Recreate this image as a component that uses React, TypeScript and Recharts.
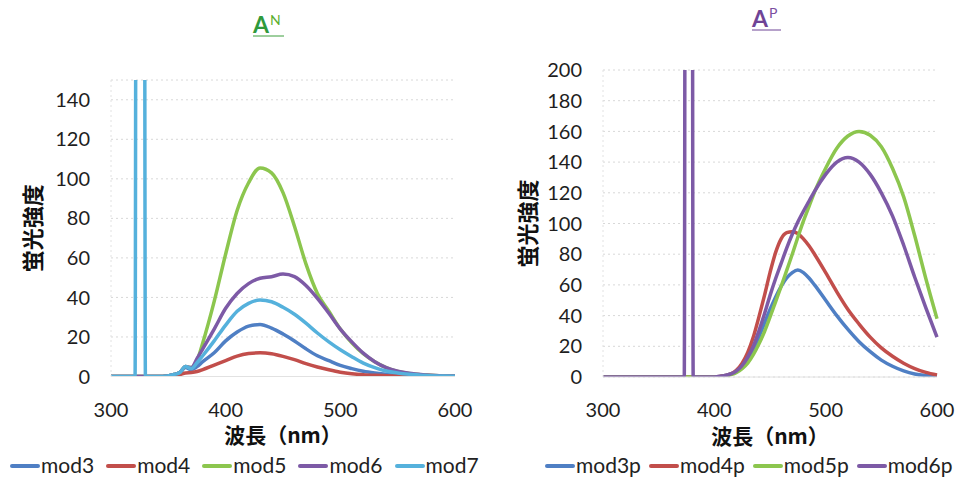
import { LineChart, Line, XAxis, YAxis, CartesianGrid, Label } from 'recharts';

// ---- A^N (left) ----
const wavelengthsN = [300, 321, 322, 329, 330, 345, 355, 360, 365, 370, 375, 380, 390, 400, 410, 420, 430, 440, 450, 460, 470, 480, 490, 500, 510, 520, 530, 540, 550, 560, 575, 590, 600];
const mod3 = [0, 0, 0, 0, 0, 0, 1, 2, 4.5, 3.5, 5, 7.5, 12, 18, 22.5, 25.5, 26.3, 24.5, 21.5, 18, 14, 10.5, 8, 5.6, 4, 2.7, 1.8, 1.1, 0.7, 0.4, 0.2, 0.1, 0];
const mod4 = [0, 0, 0, 0, 0, 0, 0.5, 1, 1.8, 2, 2.5, 3.5, 5.8, 8, 10.3, 11.6, 12, 11.5, 10.2, 8.5, 6.5, 4.8, 3.4, 2.2, 1.4, 0.9, 0.6, 0.4, 0.2, 0.1, 0, 0, 0];
const mod5 = [0, 0, 0, 0, 0, 0, 1, 2, 5, 4.5, 8, 17, 38, 62, 84, 98, 105.5, 103, 93, 76, 57, 42, 33, 24, 17, 11.5, 7.5, 4.5, 2.5, 1.5, 0.7, 0.3, 0.2];
const mod6 = [0, 0, 0, 0, 0, 0, 1, 2, 5, 4.5, 9, 14, 24, 34.5, 42, 47, 49.7, 50.5, 51.8, 50.5, 46, 39.5, 32, 24, 17.5, 11.8, 7.5, 4.5, 2.7, 1.6, 0.8, 0.3, 0.2];
const mod7 = [0, 0, 300, 300, 0, 0, 1, 2, 5, 4, 7, 10.5, 18, 26, 33, 37, 38.7, 37.8, 35, 31.5, 27, 22, 17.5, 13.5, 10, 6.8, 4.5, 2.8, 1.8, 1.1, 0.5, 0.2, 0.1];

// ---- A^P (right) ----
const wavelengthsP = [300, 373, 374, 380, 381, 400, 410, 415, 420, 425, 430, 435, 440, 445, 450, 455, 460, 465, 470, 475, 480, 485, 490, 500, 510, 520, 530, 540, 550, 560, 570, 580, 590, 600];
const mod3p = [0, 0, 0, 0, 0, 0, 1, 2, 4, 7, 12, 18, 26, 35, 44, 52, 59, 64.5, 68, 69.7, 68, 64.5, 60, 50, 40, 31, 23, 16.5, 11, 7, 4, 2, 1, 0.5];
const mod4p = [0, 0, 0, 0, 0, 0, 1, 2, 4.5, 9, 16, 26, 39, 53, 68, 81, 90, 94, 94.7, 93.5, 90, 85.5, 80, 68, 55.5, 44, 34.5, 26, 19, 13.5, 9, 5.5, 3, 1.3];
const mod5p = [0, 0, 0, 0, 0, 0, 0.5, 1.5, 3, 5.5, 9, 14.5, 21.5, 29.5, 39, 49, 59, 69.5, 80, 91, 101.5, 111, 120.5, 136, 149, 157, 160, 157.5, 150, 136, 117.5, 92, 64, 38];
const mod6p = [0, 0, 400, 400, 0, 0, 1, 2, 4, 7.5, 13, 20, 30, 41, 53, 64, 74, 84, 93, 101, 108, 114.5, 121, 132, 140, 143, 140, 132, 120, 105, 86, 65, 45, 26];

const xTicks = [300, 400, 500, 600];
const yTicksN = [0, 20, 40, 60, 80, 100, 120, 140];
const yTicksP = [0, 20, 40, 60, 80, 100, 120, 140, 160, 180, 200];

type Series = { name: string; values: number[]; color: string };

const seriesN: Series[] = [
  { name: 'mod3', values: mod3, color: '#4f7fc4' },
  { name: 'mod4', values: mod4, color: '#c24e4b' },
  { name: 'mod5', values: mod5, color: '#8cc64e' },
  { name: 'mod6', values: mod6, color: '#7d5aa6' },
  { name: 'mod7', values: mod7, color: '#55b1dc' },
];

const seriesP: Series[] = [
  { name: 'mod3p', values: mod3p, color: '#4f7fc4' },
  { name: 'mod4p', values: mod4p, color: '#c24e4b' },
  { name: 'mod5p', values: mod5p, color: '#8cc64e' },
  { name: 'mod6p', values: mod6p, color: '#7d5aa6' },
];

const buildRows = (xs: number[], series: Series[]) =>
  xs.map((wl, i) => {
    const row: Record<string, number> = { wl };
    series.forEach(s => { row[s.name] = s.values[i]; });
    return row;
  });

const tickStyle = { fontFamily: 'Lato, sans-serif', fontSize: 20, fill: '#1e1e1e' };
const cjkStyle = { fontFamily: '"Noto Sans CJK JP", sans-serif', fontSize: 21, fontWeight: 700, fill: '#111' };

interface ChartProps {
  series: Series[];
  xs: number[];
  yTicks: number[];
  yMax: number;
  top: number;
  bottom: number;
  right: number;
  yWidth: number;
  yLabelOffset: number;
  width: number;
}

const Spectrum = ({ series, xs, yTicks, yMax, top, bottom, right, yWidth, yLabelOffset, width }: ChartProps) => {
  const rows = buildRows(xs, series);
  return (
    <LineChart width={width} height={481} data={rows} margin={{ top, right, left: 0, bottom }}>
      <CartesianGrid vertical={false} stroke="#d8d8d8" strokeDasharray="2 3" />
      <XAxis
        dataKey="wl"
        type="number"
        domain={[300, 600]}
        ticks={xTicks}
        height={30}
        tickSize={0}
        tickMargin={26}
        tick={tickStyle}
        axisLine={{ stroke: '#e2e2e2' }}
      >
        <Label value="波長（nm）" position="bottom" offset={22} style={cjkStyle} />
      </XAxis>
      <YAxis
        domain={[0, yMax]}
        ticks={yTicks}
        allowDataOverflow
        width={yWidth}
        tickSize={0}
        tickMargin={21}
        tick={tickStyle}
        axisLine={{ stroke: '#e2e2e2', strokeDasharray: '2 3' }}
      >
        <Label value="蛍光強度" angle={-90} position="insideLeft" offset={yLabelOffset} style={{ ...cjkStyle, fontSize: 22, textAnchor: 'middle' }} />
      </YAxis>
      {series.map(s => (
        <Line
          key={s.name}
          type="monotone"
          dataKey={s.name}
          stroke={s.color}
          strokeWidth={3.5}
          dot={false}
          activeDot={false}
          isAnimationActive={false}
        />
      ))}
    </LineChart>
  );
};

const LegendRow = ({ series, left, gap }: { series: Series[]; left: number; gap: number }) => (
  <div style={{ position: 'absolute', left, top: 452, display: 'flex', alignItems: 'center', fontFamily: 'Lato, sans-serif', fontSize: 21, color: '#222', whiteSpace: 'nowrap', lineHeight: 'normal' }}>
    {series.map(s => (
      <div key={s.name} style={{ display: 'flex', alignItems: 'center', marginRight: gap }}>
        <span style={{ display: 'inline-block', width: 30, height: 4, marginTop: 3, background: s.color, borderRadius: 2 }} />
        <span style={{ marginLeft: 1 }}>{s.name}</span>
      </div>
    ))}
  </div>
);

export default function App() {
  return (
    <div style={{ position: 'absolute', left: 0, top: 0, width: 959, height: 481, background: '#fff', overflow: 'hidden' }}>
      <div style={{ position: 'absolute', left: 0, top: 0 }}>
        <Spectrum series={seriesN} xs={wavelengthsN} yTicks={yTicksN} yMax={150} top={80} bottom={74.5} right={25} yWidth={111} yLabelOffset={33} width={480} />
      </div>
      <div style={{ position: 'absolute', left: 480, top: 0 }}>
        <Spectrum series={seriesP} xs={wavelengthsP} yTicks={yTicksP} yMax={200} top={70} bottom={74} right={22} yWidth={123} yLabelOffset={48} width={479} />
      </div>
      <LegendRow series={seriesN} left={10} gap={12} />
      <LegendRow series={seriesP} left={545} gap={8} />
      <svg width={959} height={50} style={{ position: 'absolute', left: 0, top: 0 }}>
        <text x={253} y={33} fontFamily="Lato, sans-serif" fontWeight={700} fontSize={23} fill="#2f9a3c">A</text>
        <text x={270} y={25} fontFamily="Lato, sans-serif" fontSize={14} fill="#5cb030">N</text>
        <line x1={253} x2={284} y1={36} y2={36} stroke="#3d9e3d" strokeWidth={1} />
        <text x={752} y={27} fontFamily="Lato, sans-serif" fontWeight={700} fontSize={23} fill="#6f4496">A</text>
        <text x={769} y={18} fontFamily="Lato, sans-serif" fontSize={14} fill="#7a4ea0">P</text>
        <line x1={752} x2={781} y1={30} y2={30} stroke="#6f4496" strokeWidth={1} />
      </svg>
    </div>
  );
}
